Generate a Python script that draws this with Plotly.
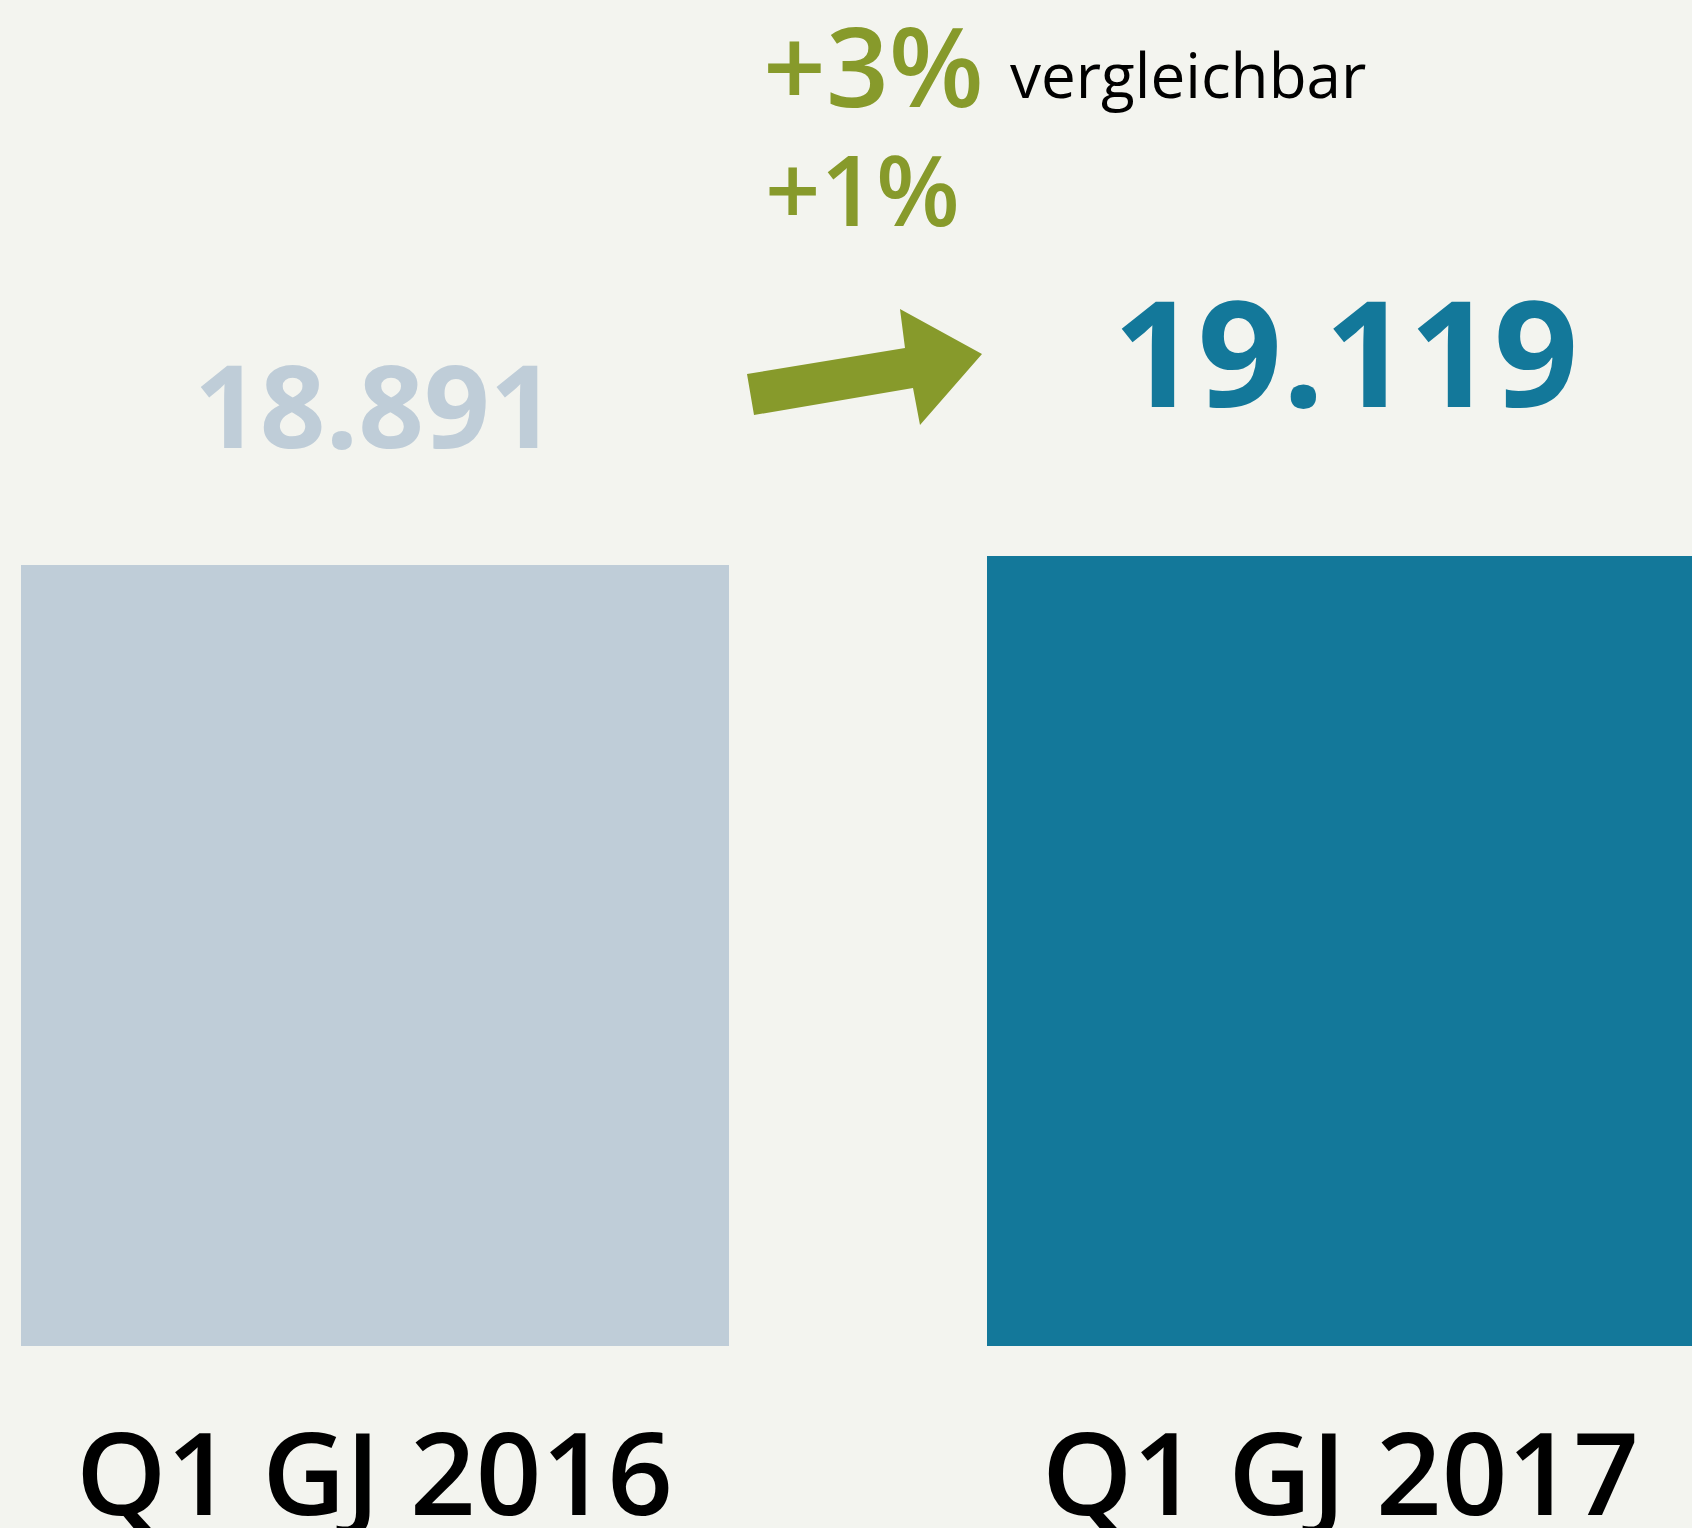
import plotly.graph_objects as go

# ---- data ----
categories = ["Q1 GJ 2016", "Q1 GJ 2017"]
values = [18891, 19119]
value_labels = ["18.891", "19.119"]
growth_comparable = "+3%"
growth_comparable_label = "vergleichbar"
growth_nominal = "+1%"

# ---- style ----
W, H = 1692, 1528
MB = 182
BG = "#f3f4ef"
bar_colors = ["#bfcdd8", "#13789a"]
label_colors = ["#bfcdd8", "#13789a"]
GREEN = "#879a2b"
FONT = "Open Sans"
PLOT_H = H - MB


def px_x(px):
    return px / W


def px_y(py):
    return 1 - py / PLOT_H


fig = go.Figure()
fig.add_trace(go.Bar(
    x=[0, 1],
    y=values,
    width=0.7334,
    marker=dict(color=bar_colors, line=dict(width=0)),
    hoverinfo="skip",
))

annotations = []
# value labels above bars
label_shift = [162, 206]
label_xshift = [0, 5]
label_sizes = [115, 148]
for i, (lab, v) in enumerate(zip(value_labels, values)):
    annotations.append(dict(
        x=i, y=v, xref="x", yref="y", text=lab, showarrow=False,
        xanchor="center", yanchor="middle", yshift=label_shift[i], xshift=label_xshift[i],
        font=dict(family=FONT, size=label_sizes[i], color=label_colors[i], weight=700),
    ))
# category labels
for i, c in enumerate(categories):
    annotations.append(dict(
        x=i, y=0, xref="x", yref="y", text=c, showarrow=False,
        xanchor="center", yanchor="middle", yshift=-124,
        font=dict(family=FONT, size=115, color="#000000", weight=600),
    ))
# growth texts
annotations.append(dict(
    x=px_x(761), y=px_y(64), xref="paper", yref="paper", text=growth_comparable,
    showarrow=False, xanchor="left", yanchor="middle",
    font=dict(family=FONT, size=110, color=GREEN, weight=600),
))
annotations.append(dict(
    x=px_x(1008), y=px_y(74), xref="paper", yref="paper", text=growth_comparable_label,
    showarrow=False, xanchor="left", yanchor="middle",
    font=dict(family=FONT, size=62, color="#000000", weight=400),
))
annotations.append(dict(
    x=px_x(763), y=px_y(188), xref="paper", yref="paper", text=growth_nominal,
    showarrow=False, xanchor="left", yanchor="middle",
    font=dict(family=FONT, size=97, color=GREEN, weight=600),
))

# arrow decoration (pixel outline converted to paper coords)
arrow_px = [(747, 374), (905, 348), (900, 309), (982, 354), (920, 425), (913, 388), (754, 415)]
path = "M " + " L ".join(f"{px_x(a):.5f},{px_y(b):.5f}" for a, b in arrow_px) + " Z"
shapes = [dict(type="path", xref="paper", yref="paper", path=path,
               fillcolor=GREEN, line=dict(width=0), layer="above")]

fig.update_layout(
    width=W, height=H,
    margin=dict(l=0, r=0, t=0, b=MB),
    paper_bgcolor=BG, plot_bgcolor=BG,
    showlegend=False,
    xaxis=dict(range=[-0.3882, 1.3634], showticklabels=False, showgrid=False,
               zeroline=False, showline=False, fixedrange=True),
    yaxis=dict(range=[0, 32560], showticklabels=False, showgrid=False,
               zeroline=False, showline=False, fixedrange=True),
    annotations=annotations,
    shapes=shapes,
    bargap=0,
)

fig.write_html(
    "out.html",
    config={"displayModeBar": False},
    post_script="document.body.style.margin='0';document.body.style.background='" + BG + "';",
)
